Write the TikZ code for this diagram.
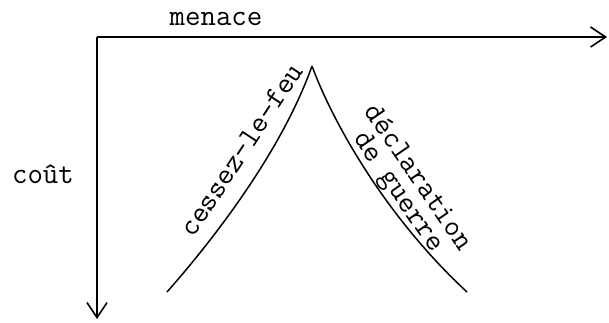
\documentclass[tikz,border=0pt]{standalone}
\usetikzlibrary{arrows.meta}
\begin{document}
\begin{tikzpicture}[x=0.5pt,y=-0.5pt,
  axis/.style={line width=0.8pt,-{Straight Barb[length=7.5pt,width=10pt,line width=0.8pt]}},
  curve/.style={line width=0.75pt},
  lbl/.style={font=\ttfamily\fontsize{15}{17}\selectfont, inner sep=0pt}]
\useasboundingbox (0,0) rectangle (609,322);
\coordinate (o) at (97,37);
\coordinate (xend) at (607,37);
\coordinate (yend) at (97,319);
\coordinate (peak) at (312,66);
\coordinate (lend) at (167,292);
\coordinate (rend) at (467,292);
\draw[axis] (o) -- (xend);
\draw[axis] (o) -- (yend);
\draw[curve] (lend) .. controls (226,225) and (285,142) .. (peak);
\draw[curve] (peak) .. controls (333,123) and (386,217) .. (rend);
\node[lbl, anchor=base] (menace) at (216,25) {menace};
\node[lbl, anchor=base] (cout) at (43,183) {coût};
\node[lbl, anchor=base, rotate=56.6] (cessez) at (249,155) {cessez-le-feu};
\node[lbl, anchor=base, rotate=-55.5] (decl) at (412,182) {déclaration};
\node[lbl, anchor=base, rotate=-55.5] (guerre) at (392.5,196) {de guerre};
\end{tikzpicture}
\end{document}
